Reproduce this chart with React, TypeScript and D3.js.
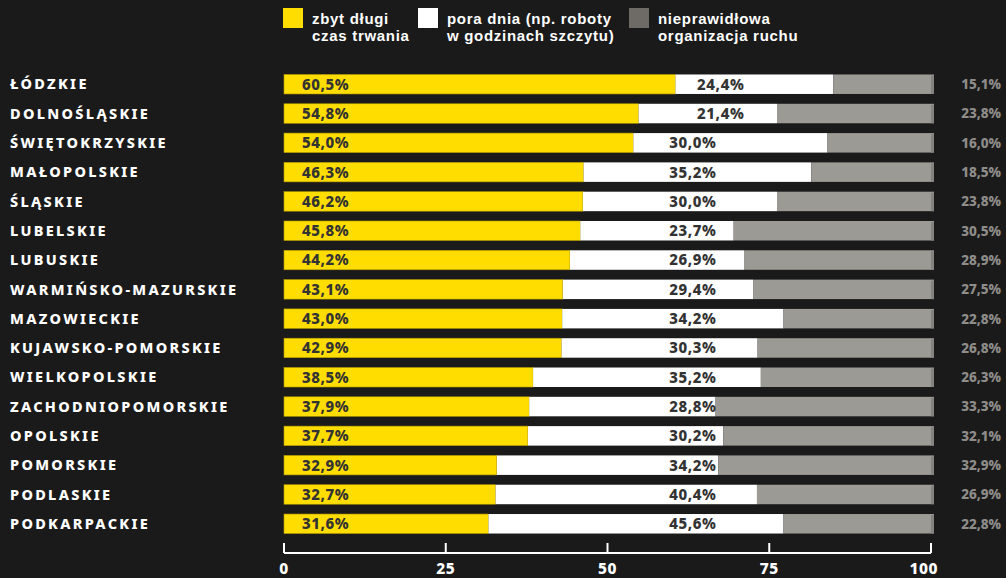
import React from 'react'
import * as d3 from 'd3'

const regions = [
  'ŁÓDZKIE',
  'DOLNOŚLĄSKIE',
  'ŚWIĘTOKRZYSKIE',
  'MAŁOPOLSKIE',
  'ŚLĄSKIE',
  'LUBELSKIE',
  'LUBUSKIE',
  'WARMIŃSKO-MAZURSKIE',
  'MAZOWIECKIE',
  'KUJAWSKO-POMORSKIE',
  'WIELKOPOLSKIE',
  'ZACHODNIOPOMORSKIE',
  'OPOLSKIE',
  'POMORSKIE',
  'PODLASKIE',
  'PODKARPACKIE',
]

// zbyt długi czas trwania
const tooLong = [60.5, 54.8, 54.0, 46.3, 46.2, 45.8, 44.2, 43.1, 43.0, 42.9, 38.5, 37.9, 37.7, 32.9, 32.7, 31.6]
// pora dnia
const timeOfDay = [24.4, 21.4, 30.0, 35.2, 30.0, 23.7, 26.9, 29.4, 34.2, 30.3, 35.2, 28.8, 30.2, 34.2, 40.4, 45.6]
// nieprawidłowa organizacja ruchu
const badTraffic = [15.1, 23.8, 16.0, 18.5, 23.8, 30.5, 28.9, 27.5, 22.8, 26.8, 26.3, 33.3, 32.1, 32.9, 26.9, 22.8]

const axisTicks = [0, 25, 50, 75, 100]

const legendItems = [
  { lines: ['zbyt długi', 'czas trwania'], color: '#FFDD00' },
  { lines: ['pora dnia (np. roboty', 'w godzinach szczytu)'], color: '#FFFFFF' },
  { lines: ['nieprawidłowa', 'organizacja ruchu'], color: '#6E6B67' },
]

const W = 1006
const H = 578
const FONT = '"Noto Sans", "Open Sans", sans-serif'
const fmt = (v: number) => v.toFixed(1).replace('.', ',') + '%'

export default function App() {
  const x = d3.scaleLinear().domain([0, 100]).range([284, 931])
  const y = d3
    .scaleBand<string>()
    .domain(regions)
    .range([69.5, 538.5])
    .paddingInner(0.335)
    .paddingOuter(0.17)
  const bh = y.bandwidth()
  const legendX = [283, 418, 629]

  // white-segment labels sit on a common column, pushed right where the yellow part is long
  const whiteLabelX = (a: number) => (a >= 54.5 ? x(67.5) : x(63.2))

  return (
    <svg
      width={W}
      height={H}
      style={{ position: 'absolute', left: 0, top: 0, background: '#1A1A1A' }}
      fontFamily={FONT}
    >
      <rect width={W} height={H} fill="#1A1A1A" />

      {/* legend */}
      {legendItems.map((item, i) => (
        <g key={i} transform={`translate(${legendX[i]},8)`}>
          <rect width={20} height={20} fill={item.color} />
          {item.lines.map((line, j) => (
            <text
              key={j}
              x={29}
              y={15.5 + j * 17.5}
              fill="#FFFFFF"
              fontFamily='"Liberation Sans", Arial, sans-serif'
              fontSize={15}
              fontWeight={700}
              letterSpacing={0.7}
            >
              {line}
            </text>
          ))}
        </g>
      ))}

      {regions.map((r, i) => {
        const y0 = y(r) as number
        const cy = y0 + bh / 2
        const a = tooLong[i]
        const b = timeOfDay[i]
        return (
          <g key={r}>
            <text
              x={10}
              y={cy}
              dy="0.36em"
              fill="#FFFFFF"
              fontSize={14.5}
              fontWeight={800}
              letterSpacing={2.3}
            >
              {r}
            </text>
            <rect x={x(0)} y={y0} width={x(a) - x(0)} height={bh} fill="#FFDD00" stroke="#B59B00" strokeWidth={0.6} />
            <rect x={x(a)} y={y0} width={x(a + b) - x(a)} height={bh} fill="#FFFFFF" />
            <rect
              x={x(a + b)}
              y={y0}
              width={x(100) + 3 - x(a + b)}
              height={bh}
              fill="#9C9A95"
            />
            <rect x={x(100)} y={y0 + 1} width={3} height={bh - 1} fill="#858380" />
            <text
              x={x(0) + 18}
              y={cy}
              dy="0.36em"
              fill="#333333"
              fontSize={15}
              fontWeight={800}
              letterSpacing={0.6}
            >
              {fmt(a)}
            </text>
            <text
              x={whiteLabelX(a)}
              y={cy}
              dy="0.36em"
              textAnchor="middle"
              fill="#333333"
              fontSize={15}
              fontWeight={800}
              letterSpacing={0.6}
            >
              {fmt(b)}
            </text>
            <text
              x={1001}
              y={cy}
              dy="0.36em"
              textAnchor="end"
              fill="#8E8C89"
              fontSize={13.5}
              fontWeight={800}
            >
              {fmt(badTraffic[i])}
            </text>
          </g>
        )
      })}

      {/* axis */}
      <g>
        <line x1={x(0)} x2={x(100)} y1={553} y2={553} stroke="#FFFFFF" strokeWidth={2} />
        {axisTicks.map((t) => (
          <g key={t}>
            <line x1={x(t)} x2={x(t)} y1={543} y2={553} stroke="#FFFFFF" strokeWidth={2} />
            <text
              x={t === 100 ? x(t) + 7 : x(t)}
              y={568}
              dy="0.36em"
              textAnchor={t === 100 ? 'end' : 'middle'}
              fill="#FFFFFF"
              fontSize={15.5}
              fontWeight={800}
              letterSpacing={0.5}
            >
              {t}
            </text>
          </g>
        ))}
      </g>
    </svg>
  )
}
